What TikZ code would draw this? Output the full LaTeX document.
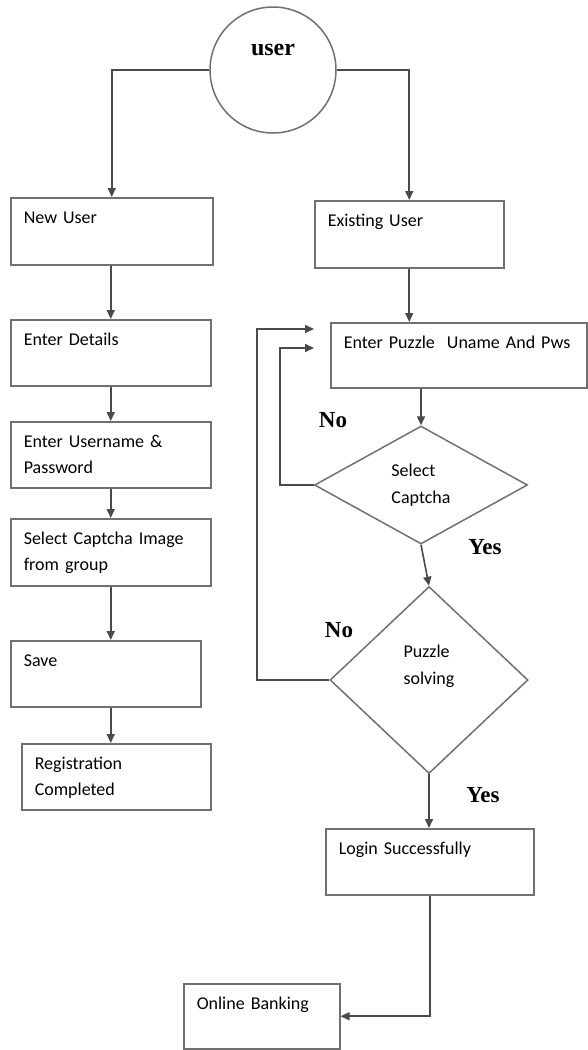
\documentclass[tikz,border=0pt]{standalone}
\usepackage{fontspec}
\setmainfont{Carlito}
\newfontfamily\labelfont{Liberation Serif}
\usetikzlibrary{arrows.meta,shapes.geometric}
\definecolor{boxgray}{HTML}{707070}
\definecolor{linegray}{HTML}{4A4A4A}
\begin{document}
\begin{tikzpicture}[x=1pt,y=-1pt,
	box/.style={draw=boxgray,line width=1.5pt,anchor=north west,align=left,inner xsep=13pt,inner ysep=0pt,text height=26pt,font=\fontsize{18}{26}\selectfont},
	decision/.style={draw=boxgray,line width=1.5pt,diamond,inner sep=0pt,align=left,font=\fontsize{18}{27}\selectfont},
	answer/.style={font=\labelfont\bfseries\fontsize{23}{26}\selectfont},
	flow/.style={draw=linegray,line width=1.6pt,-{Triangle[length=9pt,width=8pt]}}]
	\useasboundingbox (0,0) rectangle (587,1050);
	\node[circle,draw=boxgray,line width=1.5pt,minimum size=126pt,inner sep=0pt,text height=11pt,text depth=40pt,font=\labelfont\bfseries\fontsize{24}{26}\selectfont] (user) at (273,70) {user};
	% new user column
	\node[box,text width=176pt,text depth=41pt] (newuser) at (10,197) {New User};
	\node[box,text width=174pt,text depth=40pt] (details) at (10,319) {Enter Details};
	\node[box,text width=174pt,text depth=40pt] (uname) at (10,421) {Enter Username \&\\Password};
	\node[box,text width=174pt,text depth=41pt] (capimg) at (10,518) {Select Captcha Image\\from group};
	\node[box,text width=164pt,text depth=40pt] (save) at (10,640) {Save};
	\node[box,text width=163pt,text depth=40pt] (regdone) at (21,743) {Registration\\Completed};
	% existing user column
	\node[box,text width=163pt,text depth=41pt] (existing) at (314,200) {Existing User};
	\node[box,text width=230pt,text depth=39pt] (puzzle) at (330,322) {Enter Puzzle~ Uname And Pws};
	\node[decision,minimum width=213pt,minimum height=118pt] (selcap) at (421,485) {Select\\Captcha};
	\node[decision,minimum width=198pt,minimum height=187pt,text depth=30pt] (solve) at (429,680) {Puzzle\\solving};
	\node[box,text width=182pt,text depth=40pt] (login) at (325,828) {Login Successfully};
	\node[box,text width=130pt,text depth=39pt] (banking) at (183,983) {Online Banking};
	\node[answer] (noA) at (333,420) {No};
	\node[answer] (yesA) at (485,547) {Yes};
	\node[answer] (noB) at (339,630) {No};
	\node[answer] (yesB) at (483,795) {Yes};
	\coordinate (backA) at (314,348);
	\coordinate (backB) at (314,329);
	% connectors
	\draw[flow] (user.west) -| (newuser.north);
	\draw[flow] (user.east) -| (existing.north);
	\foreach \a/\b in {newuser/details,details/uname,uname/capimg,capimg/save,save/regdone}
		\draw[flow] (\a.south -| details.south) -- (\b.north -| details.north);
	\draw[flow] (existing.south) -- (existing.south |- puzzle.north);
	\draw[flow] (selcap.north |- puzzle.south) -- (selcap.north);
	\draw[flow] (selcap.south) -- (solve.north);
	\draw[flow] (solve.south) -- (solve.south |- login.north);
	\draw[flow] (login.south) |- (banking.east);
	\draw[flow] (selcap.west) -- ++(-34,0) |- (backA);
	\draw[flow] (solve.west) -- ++(-72,0) |- (backB);
\end{tikzpicture}
\end{document}
